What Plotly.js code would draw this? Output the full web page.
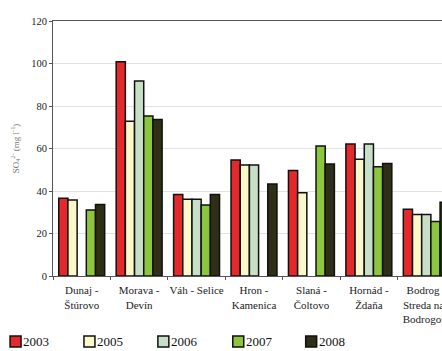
<!DOCTYPE html>
<html>
<head>
<meta charset="utf-8">
<script src="https://cdn.plot.ly/plotly-3.0.1.min.js"></script>
<style>
html,body{margin:0;padding:0;overflow:hidden;background:#fff;}
#chart{width:470px;height:351px;}
</style>
</head>
<body>
<div id="chart"></div>
<script>
var categories = ["Dunaj -<br>Štúrovo", "Morava -<br>Devín", "Váh - Selice", "Hron -<br>Kamenica", "Slaná -<br>Čoltovo", "Hornád -<br>Ždaňa", "Bodrog -<br>Streda nad<br>Bodrogom"];
var years = ["2003", "2005", "2006", "2007", "2008"];
var v2003 = [36.6, 100.8, 38.4, 54.6, 49.6, 62.1, 31.4];
var v2005 = [35.8, 72.8, 36.1, 52.2, 39.2, 54.9, 29.0];
var v2006 = [null, 91.8, 36.1, 52.2, null, 62.1, 29.0];
var v2007 = [31.1, 75.3, 33.4, null, 61.2, 51.4, 25.6];
var v2008 = [33.7, 73.7, 38.4, 43.3, 52.7, 53.0, 34.7];
var yTicks = [0, 20, 40, 60, 80, 100, 120];

var series = [v2003, v2005, v2006, v2007, v2008];
var colors = ["#e3292b", "#fbf8c9", "#c6dfc6", "#8cc63e", "#2e2f16"];
var serif = "Liberation Serif, DejaVu Serif, serif";

var traces = series.map(function(vals, i){
  return {
    type: "bar",
    x: categories,
    y: vals,
    name: years[i],
    marker: {color: colors[i], line: {color: "#111", width: 1.5}},
    showlegend: false,
    hoverinfo: "y"
  };
});

// custom legend (pixel positions converted to paper coords)
var plotL = 53, plotW = 402.5, plotB = 276, plotH = 255;
var legendPx = [10, 84, 158, 233, 306];
var shapes = [], annotations = [];
legendPx.forEach(function(px, i){
  var x0 = (px - plotL) / plotW, x1 = (px + 11 - plotL) / plotW;
  var y0 = (plotB - 347) / plotH, y1 = (plotB - 336) / plotH;
  shapes.push({type: "rect", xref: "paper", yref: "paper", x0: x0, x1: x1, y0: y0, y1: y1,
    fillcolor: colors[i], line: {color: "#111", width: 1.5}});
  annotations.push({xref: "paper", yref: "paper", x: (px + 11 - plotL) / plotW, y: (plotB - 341.5) / plotH,
    xanchor: "left", yanchor: "middle", showarrow: false, text: years[i],
    font: {family: serif, size: 13, color: "#111"}});
});

var layout = {
  width: 470, height: 351,
  margin: {l: 53, r: 470 - 53 - 402.5, t: 21, b: 351 - 276},
  paper_bgcolor: "#fff", plot_bgcolor: "#fff",
  font: {family: serif, size: 11, color: "#222"},
  barmode: "group", bargap: 0.2, bargroupgap: 0,
  showlegend: false,
  xaxis: {
    type: "category", range: [-0.5, 6.5], tickangle: 0,
    showline: true, linecolor: "#555", linewidth: 1, mirror: true,
    ticks: "outside", tickson: "boundaries", ticklen: 3, tickcolor: "#555",
    ticklabelstandoff: 4,
    showgrid: false, tickfont: {family: serif, size: 11, color: "#222"}
  },
  yaxis: {
    range: [0, 120], tickvals: yTicks, ticktext: yTicks.map(String),
    showline: true, linecolor: "#555", linewidth: 1, mirror: true,
    ticks: "outside", ticklen: 3, tickcolor: "#555",
    gridcolor: "#e2e2e2", gridwidth: 1, zeroline: false,
    tickfont: {family: serif, size: 10.5, color: "#222"},
    title: {text: "SO<sub>4</sub><sup>2-</sup> (mg l<sup>-1</sup>)", font: {family: serif, size: 9, color: "#777"}, standoff: 10}
  },
  shapes: shapes,
  annotations: annotations
};

Plotly.newPlot("chart", traces, layout, {displayModeBar: false, staticPlot: true});
</script>
</body>
</html>
